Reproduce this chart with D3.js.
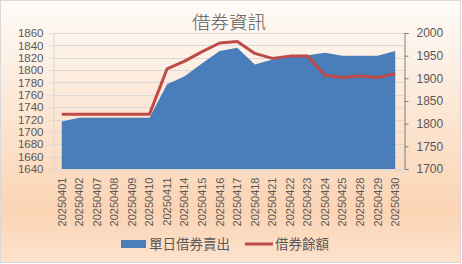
<!DOCTYPE html>
<meta charset="utf-8">
<style>
body { margin: 0; }
text { font-family: "Liberation Sans", Arial, sans-serif; fill: #595959; }
.cjk { font-family: "Noto Sans CJK TC", "Noto Sans", sans-serif; }
</style>
<body>
<script src="https://d3js.org/d3.v7.min.js"></script>
<script>
var width = 462, height = 264;

var dates = ["20250401","20250402","20250407","20250408","20250409","20250410",
             "20250411","20250414","20250415","20250416","20250417","20250418",
             "20250421","20250422","20250423","20250424","20250425","20250428",
             "20250429","20250430"];
// 單日借券賣出 (left axis)
var dailySell = [1717,1723,1723,1723,1723,1723,1777,1790,1811,1831,
                 1836,1809,1817,1823,1824,1828,1823,1823,1823,1831];
// 借券餘額 (right axis)
var balance = [1821,1821,1821,1821,1821,1821,1921,1938,1959,1978,
               1981,1955,1944,1949,1949,1907,1902,1905,1902,1910];
var leftTicks = d3.range(1640, 1861, 20);
var rightTicks = d3.range(1700, 2001, 50);

var svg = d3.select("body").append("svg")
    .attr("width", width)
    .attr("height", height);

var grad = svg.append("defs").append("linearGradient")
    .attr("id", "bg").attr("x1", 0).attr("y1", 0).attr("x2", 0).attr("y2", 1);
grad.append("stop").attr("offset", "0%").attr("stop-color", "#fefbf8");
grad.append("stop").attr("offset", "80%").attr("stop-color", "#fbd4b4");
grad.append("stop").attr("offset", "100%").attr("stop-color", "#fde2cd");

svg.append("rect")
    .attr("x", 0.5).attr("y", 0.5)
    .attr("width", width - 2).attr("height", height - 2)
    .attr("fill", "url(#bg)")
    .attr("stroke", "#d9d9d9");

var x = d3.scaleBand().domain(dates).range([53, 404]);
var cx = function(d) { return x(d) + x.bandwidth() / 2; };
var yL = d3.scaleLinear().domain([1640, 1860]).range([169, 33]);
var yR = d3.scaleLinear().domain([1700, 2000]).range([169, 33]);

// gridlines
svg.append("g")
  .selectAll("line")
  .data(leftTicks.slice(1))
  .enter().append("line")
    .attr("x1", 53).attr("x2", 404)
    .attr("y1", function(d) { return Math.round(yL(d)) + 0.5; })
    .attr("y2", function(d) { return Math.round(yL(d)) + 0.5; })
    .attr("stroke", "#d9d9d9");

// area
var area = d3.area()
    .x(function(d, i) { return cx(dates[i]); })
    .y0(yL(1640))
    .y1(function(d) { return yL(d); });
svg.append("path")
    .datum(dailySell)
    .attr("d", area)
    .attr("fill", "#4a7ebb");

// line
var line = d3.line()
    .x(function(d, i) { return cx(dates[i]); })
    .y(function(d) { return yR(d); });
svg.append("path")
    .datum(balance)
    .attr("d", line)
    .attr("fill", "none")
    .attr("stroke", "#be4b48")
    .attr("stroke-width", 3)
    .attr("stroke-linejoin", "round");

// left axis
var gL = svg.append("g")
    .attr("transform", "translate(53.5,0)")
    .call(d3.axisLeft(yL).tickValues(leftTicks).tickFormat(d3.format("d"))
      .tickSize(4).tickPadding(6));
gL.select(".domain").attr("stroke", "#d9d9d9");
gL.selectAll(".tick line").attr("stroke", "#d9d9d9");
gL.selectAll("text").style("font-size", "11.5px").attr("fill", "#595959");

// right axis
var gR = svg.append("g")
    .attr("transform", "translate(404.5,0)")
    .call(d3.axisRight(yR).tickValues(rightTicks).tickFormat(d3.format("d"))
      .tickSize(4).tickPadding(8));
gR.select(".domain").attr("stroke", "#7f7f7f");
gR.selectAll(".tick line").attr("stroke", "#7f7f7f");
gR.selectAll("text").style("font-size", "12px").attr("fill", "#595959");

// x axis
var gX = svg.append("g")
    .attr("transform", "translate(0,169.5)")
    .call(d3.axisBottom(x).tickSize(0).tickPadding(0));
gX.select(".domain").attr("stroke", "#d9d9d9");
gX.selectAll(".tick text")
    .attr("transform", "rotate(-90)")
    .attr("x", -8).attr("y", 0).attr("dy", "0.35em")
    .style("text-anchor", "end")
    .style("font-size", "11px")
    .attr("fill", "#595959");
gX.append("g").selectAll("line")
    .data(dates.concat([null]))
    .enter().append("line")
    .attr("x1", function(d, i) { return Math.round(53 + i * x.bandwidth()) + 0.5; })
    .attr("x2", function(d, i) { return Math.round(53 + i * x.bandwidth()) + 0.5; })
    .attr("y1", 0).attr("y2", 4)
    .attr("stroke", "#d9d9d9");

// title
svg.append("text")
    .attr("class", "cjk")
    .attr("x", 229).attr("y", 29)
    .attr("text-anchor", "middle")
    .style("font-size", "18.5px")
    .style("font-weight", 300)
    .attr("fill", "#666")
    .text("借券資訊");

// legend
var leg = svg.append("g");
leg.append("rect")
    .attr("x", 121).attr("y", 240).attr("width", 25).attr("height", 8)
    .attr("fill", "#4a7ebb");
leg.append("text")
    .attr("class", "cjk")
    .attr("x", 149).attr("y", 249)
    .style("font-size", "13.5px")
    .text("單日借券賣出");
leg.append("line")
    .attr("x1", 245).attr("x2", 273).attr("y1", 244).attr("y2", 244)
    .attr("stroke", "#be4b48").attr("stroke-width", 3);
leg.append("text")
    .attr("class", "cjk")
    .attr("x", 275).attr("y", 249)
    .style("font-size", "13.5px")
    .text("借券餘額");
</script>
</body>
